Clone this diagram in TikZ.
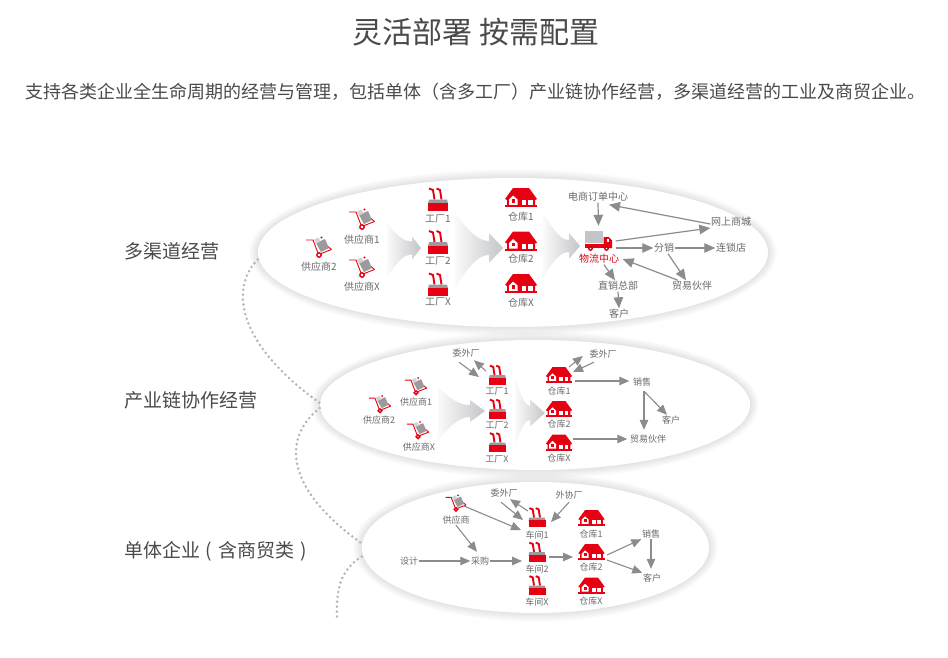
\documentclass[tikz,border=0pt]{standalone}
\usepackage{fontspec}
\setmainfont{Noto Sans CJK SC}
\usetikzlibrary{shapes.geometric,arrows.meta}
\definecolor{txt}{HTML}{6A6A6A}
\definecolor{head}{HTML}{4A4A4A}
\definecolor{arrgray}{HTML}{8C8C8C}
\definecolor{brand}{HTML}{E60012}
\definecolor{icongray}{HTML}{9A9B9D}
\definecolor{bigc}{HTML}{C4C5C8}
\definecolor{dotc}{HTML}{B4B4B4}
\tikzset{
  lab/.style={font=\fontsize{10}{10}\selectfont,text=txt,inner sep=0.5pt,text height=8.5pt,text depth=1.5pt},
  labs/.style={font=\fontsize{9}{9}\selectfont,text=txt,inner sep=0.5pt,text height=7.6pt,text depth=1.4pt},
  side/.style={font=\fontsize{19}{19}\selectfont,text=head,anchor=west,inner sep=0pt},
  arr/.style={draw=arrgray,line width=1.2pt,-{Triangle[length=11pt,width=9.5pt]}},
  arrs/.style={draw=arrgray,line width=1.1pt,-{Triangle[length=10pt,width=8.5pt]}},
  dotline/.style={draw=dotc,line width=2.8pt,line cap=round,dash pattern=on 0pt off 4.9pt},
  oval/.style={ellipse,fill=white,inner sep=0pt},
  ibox/.style={inner sep=0pt,minimum width=#1pt,minimum height=#1pt},
  pics/cart/.style={code={
    \draw[brand,line width=0.9pt,line join=round] (-13,-7) -- (-6,-7) -- (-1,6);
    \draw[brand,line width=0.9pt] (1,7) -- (12.5,2.5);
    \draw[brand,line width=0.9pt] (9,-0.5) -- (12.5,2.5);
    \fill[icongray] (-3,-4) -- (6,-8) -- (10,1) -- (2,5) -- cycle;
    \fill[icongray!45] (-5,-7.5) -- (-0.5,-9.5) -- (1.5,-5.5) -- (-3,-3.5) -- cycle;
    \fill[brand] (2.5,-9.5) circle (1.2);
    \draw[brand,line width=1.4pt,fill=white] (0,8) circle (2.2);
  }},
  pics/factory/.style={code={
    \draw[brand,line width=1.9pt] (-3.5,0) -- (-5,-9.5) -- (-9,-11);
    \draw[brand,line width=1.9pt] (3.5,0) -- (2,-9.5) -- (-1.5,-11);
    \fill[icongray] (-10,4) -- (-9,0) -- (9,0) -- (10,4) -- cycle;
    \fill[brand] (-10,3.5) rectangle (10,11.5);
  }},
  pics/house/.style={code={
    \fill[brand] (-16,1.5) -- (-8,-9.5) -- (8,-9.5) -- (16,1.5) -- (14,2.5) -- (14,8) -- (-14,8) -- (-14,2.5) -- cycle;
    \fill[white] (-12,2) -- (-8,-2) -- (-3.5,2) -- (-3.5,7.5) -- (-12,7.5) -- cycle;
    \fill[brand] (-9.5,1.5) rectangle (-6,5);
    \fill[white] (0.5,2.5) rectangle (11.5,7.5);
    \fill[brand] (5,2.5) rectangle (7,7.5);
    \fill[brand] (-16,7.5) rectangle (16,9.8);
  }},
  pics/truck/.style={code={
    \fill[bigc] (-13.5,-10) rectangle (4,1.5);
    \fill[brand] (5,7) -- (5,-4) -- (10,-4) -- (13.5,-0.5) -- (13.5,7) -- cycle;
    \fill[white] (8,-2.5) rectangle (10.5,0.5);
    \fill[brand] (-13.5,3) rectangle (13.5,7);
    \fill[brand!80!black] (-8,7.5) circle (2.4) (8,7.5) circle (2.4);
    \fill[white] (-8,7.5) circle (0.8) (8,7.5) circle (0.8);
  }},
}
\newcommand{\bigarr}[8]{% sx ytop ybot hx hh tx ty stem
  \shade[left color=bigc!8,middle color=bigc!85,right color=bigc]
    (#1,#2) .. controls ({#1+(#4-#1)*0.45},{#7-(#7-#2)*0.42}) and ({#1+(#4-#1)*0.7},{#7-#8}) .. (#4,{#7-#8})
    -- (#4,{#7-#5}) -- (#6,#7) -- (#4,{#7+#5}) -- (#4,{#7+#8})
    .. controls ({#1+(#4-#1)*0.7},{#7+#8}) and ({#1+(#4-#1)*0.45},{#7+(#3-#7)*0.42}) .. (#1,#3) -- cycle;}
% icon node: name, x, y, pic, size
\newcommand{\icon}[5]{\node[ibox=#5] (#1) at (#2,#3) {}; \pic at (#1) {#4};}
\newcommand{\iconS}[6]{\node[ibox=#5] (#1) at (#2,#3) {}; \pic[scale=#6] at (#1) {#4};}
\begin{document}
\begin{tikzpicture}[x=1pt,y=-1pt]
\useasboundingbox (0,0) rectangle (948,658);
% ---------- headings
\node[font=\fontsize{30}{30}\selectfont,text=head,inner sep=0pt] (title) at (476,32) {灵活部署 按需配置};
\node[font=\fontsize{18}{18}\selectfont,text=head,inner sep=0pt] (sub) at (475,92) {支持各类企业全生命周期的经营与管理，包括单体（含多工厂）产业链协作经营，多渠道经营的工业及商贸企业。};
\node[side] (s1) at (124,251) {多渠道经营};
\node[side] (s2) at (124,400) {产业链协作经营};
\node[side] (s3) at (124,551) {单体企业\hspace{5pt}(\hspace{7pt}含商贸类\hspace{6pt})};
% ---------- soft halos
\foreach \k in {9,8,...,1}{
  \fill[black,opacity=0.012] (513,252.5) ellipse ({255+\k} and {74.5+\k});
  \fill[black,opacity=0.012] (535,405) ellipse ({215+\k} and {65+\k});
  \fill[black,opacity=0.012] (535.5,547.5) ellipse ({173.5+\k} and {65.5+\k});
}
% ---------- ovals
\node[oval,minimum width=510pt,minimum height=149pt] (e1) at (513,252.5) {};
\node[oval,minimum width=430pt,minimum height=130pt] (e2) at (535,405) {};
\node[oval,minimum width=347pt,minimum height=131pt] (e3) at (535.5,547.5) {};
% ---------- dotted links
\draw[dotline] ([yshift=-7pt]e1.west) .. controls (232,285) and (232,340) .. ([yshift=2pt]e2.west);
\draw[dotline] ([yshift=-3pt]e2.west) .. controls (285,435) and (280,485) .. ([yshift=4pt]e3.west);
\coordinate (dotend) at (337,617);
\draw[dotline] ([yshift=-9pt]e3.west) .. controls (340,570) and (336,590) .. (dotend);
% ---------- wide arrows
\bigarr{387}{223}{277}{412}{11.5}{421}{248}{6.5}
\bigarr{455}{213}{287}{489}{15}{503}{248}{7}
\bigarr{543}{213}{277}{569}{13}{580}{246}{6}
\bigarr{438}{387}{440}{470}{11}{485}{411}{6}
\bigarr{515}{378}{445}{530}{13.5}{545}{413}{7}
% ========== panel 1
\icon{c1a}{362}{219}{cart}{22}
\icon{c1b}{319}{247}{cart}{22}
\icon{c1c}{362}{267}{cart}{22}
\node[lab] (l1a) at (362,240) {供应商1};
\node[lab] (l1b) at (319,267) {供应商2};
\node[lab] (l1c) at (362,287) {供应商X};
\icon{f1a}{438}{199.5}{factory}{20}
\icon{f1b}{438}{242}{factory}{20}
\icon{f1c}{438}{284.5}{factory}{20}
\node[lab] (lf1a) at (438,219) {工厂1};
\node[lab] (lf1b) at (438,261) {工厂2};
\node[lab] (lf1c) at (438,302) {工厂X};
\icon{h1a}{521}{197.5}{house}{20}
\icon{h1b}{521}{241}{house}{20}
\icon{h1c}{521}{283.5}{house}{20}
\node[lab] (lh1a) at (521,217) {仓库1};
\node[lab] (lh1b) at (521,259) {仓库2};
\node[lab] (lh1c) at (521,303) {仓库X};
\node[inner sep=0pt,minimum width=34pt,minimum height=30pt] (truck) at (598.5,241) {};
\pic at (truck) {truck};
\node[lab] (p1e) at (598,197) {电商订单中心};
\node[lab] (p1w) at (731,222) {网上商城};
\node[lab] (p1l) at (731,248) {连锁店};
\node[lab] (p1f) at (664,248) {分销};
\node[lab] (p1t) at (692,286) {贸易伙伴};
\node[lab,text=brand] (p1h) at (599,259) {物流中心};
\node[lab] (p1z) at (618,286) {直销总部};
\node[lab] (p1k) at (619,314) {客户};
\draw[arr] (p1e.south) -- (truck.north);
\draw[arr] ([yshift=-2pt]p1w.west) -- ([xshift=11pt,yshift=-2pt]p1e.south);
\draw[arr] (truck.east) -- ([yshift=-6pt]p1w.west);
\draw[arr] ([yshift=-7pt]truck.east) -- (p1f.west);
\draw[arr] (p1f.east) -- (p1l.west);
\draw[arr] ([xshift=4pt]p1f.south) -- ([xshift=-6pt]p1t.north);
\draw[arr] ([xshift=-14pt]p1t.north) -- ([xshift=3pt]p1h.east);
\draw[arr] ([xshift=5pt]p1h.south) -- ([xshift=-3pt]p1z.north);
\draw[arr] (p1z.south) -- (p1k.north);
% ========== panel 2
\iconS{c2a}{416}{386}{cart}{18}{0.85}
\iconS{c2b}{380}{404}{cart}{18}{0.85}
\iconS{c2c}{418}{430}{cart}{18}{0.85}
\node[labs] (l2a) at (416,402) {供应商1};
\node[labs] (l2b) at (379,420) {供应商2};
\node[labs] (l2c) at (419,447) {供应商X};
\iconS{f2a}{497.5}{375}{factory}{20}{0.85}
\iconS{f2b}{497.5}{409}{factory}{20}{0.85}
\iconS{f2c}{497.5}{442.5}{factory}{20}{0.85}
\node[labs] (lf2a) at (497,391) {工厂1};
\node[labs] (lf2b) at (497,425) {工厂2};
\node[labs] (lf2c) at (497,459) {工厂X};
\iconS{h2a}{559}{375}{house}{18}{0.82}
\iconS{h2b}{559}{409}{house}{18}{0.82}
\iconS{h2c}{559}{442.5}{house}{18}{0.82}
\node[labs] (lh2a) at (559,391) {仓库1};
\node[labs] (lh2b) at (559,424) {仓库2};
\node[labs] (lh2c) at (559,458) {仓库X};
\node[labs] (w2a) at (466,353) {委外厂};
\node[labs] (w2b) at (603,354) {委外厂};
\node[labs] (p2s) at (642,382) {销售};
\node[labs] (p2k) at (671,420) {客户};
\node[labs] (p2t) at (648,439) {贸易伙伴};
\draw[arrs] ([xshift=-7pt,yshift=-4pt]w2a.south) -- ([xshift=-18.5pt,yshift=-2pt]f2a.center);
\draw[arrs] ([xshift=-11.5pt,yshift=4pt]f2a.center) -- ([xshift=8pt,yshift=-2pt]w2a.south);
\draw[arrs] ([xshift=10pt,yshift=8pt]h2a.center) -- ([xshift=-6pt,yshift=-2pt]w2b.west);
\draw[arrs] ([xshift=-9pt,yshift=-3pt]w2b.south) -- ([xshift=14pt,yshift=3pt]h2a.center);
\draw[arrs] ([xshift=16pt,yshift=-6pt]h2a.center) -- ([xshift=-3pt,yshift=1pt]p2s.west);
\draw[arrs] ([xshift=2pt,yshift=-4pt]p2s.south) -- ([xshift=-4pt]p2k.north);
\draw[arrs] ([xshift=2pt,yshift=-4pt]p2s.south) -- ([xshift=-4pt,yshift=4pt]p2t.north);
\draw[arrs] ([xshift=14pt,yshift=3.5pt]h2c.center) -- ([xshift=-2pt]p2t.west);
% ========== panel 3
\iconS{c3}{456}{503}{cart}{18}{0.8}
\node[labs] (l3) at (456,520) {供应商};
\iconS{f3a}{537}{517.5}{factory}{20}{0.85}
\iconS{f3b}{537}{552}{factory}{20}{0.85}
\iconS{f3c}{537}{585.5}{factory}{20}{0.85}
\node[labs] (lf3a) at (537,535) {车间1};
\node[labs] (lf3b) at (537,569) {车间2};
\node[labs] (lf3c) at (537,602) {车间X};
\iconS{h3a}{591.5}{518}{house}{18}{0.82}
\iconS{h3b}{591.5}{552}{house}{18}{0.82}
\iconS{h3c}{591.5}{585.5}{house}{18}{0.82}
\node[labs] (lh3a) at (591,534) {仓库1};
\node[labs] (lh3b) at (591,567) {仓库2};
\node[labs] (lh3c) at (591,601) {仓库X};
\node[labs] (w3a) at (504,493) {委外厂};
\node[labs] (w3b) at (569,495) {外协厂};
\node[labs] (d3) at (409,561) {设计};
\node[labs] (b3) at (480,561) {采购};
\node[labs] (p3s) at (651,534) {销售};
\node[labs] (p3k) at (652,578) {客户};
\draw[arrs] ([xshift=8pt,yshift=-3pt]c3.center) -- ([xshift=-16pt,yshift=5pt]lf3a.center);
\draw[arrs] (l3.south) -- ([xshift=-3pt,yshift=4pt]b3.north);
\draw[arrs] (d3.east) -- (b3.west);
\draw[arrs] (b3.east) -- ([xshift=-15pt,yshift=-9pt]f3b.center);
\draw[arrs] ([xshift=-3pt,yshift=-4pt]w3a.south) -- ([xshift=-14pt,yshift=-2.5pt]f3a.center);
\draw[arrs] ([xshift=-9pt,yshift=6.5pt]f3a.center) -- ([xshift=6pt,yshift=-1pt]w3a.south);
\draw[arrs] ([yshift=-2pt]w3b.south) -- ([xshift=14pt,yshift=-4.5pt]f3a.center);
\draw[arrs] ([xshift=12pt,yshift=-5pt]f3b.center) -- ([xshift=-18.5pt,yshift=-5pt]h3b.center);
\draw[arrs] ([xshift=15.5pt,yshift=-3pt]h3b.center) -- (p3s.south west);
\draw[arrs] ([xshift=15.5pt,yshift=-8pt]h3b.center) -- (p3k.north west);
\draw[arrs] (p3s.south) -- ([xshift=-1pt,yshift=4pt]p3k.north);
\end{tikzpicture}
\end{document}
